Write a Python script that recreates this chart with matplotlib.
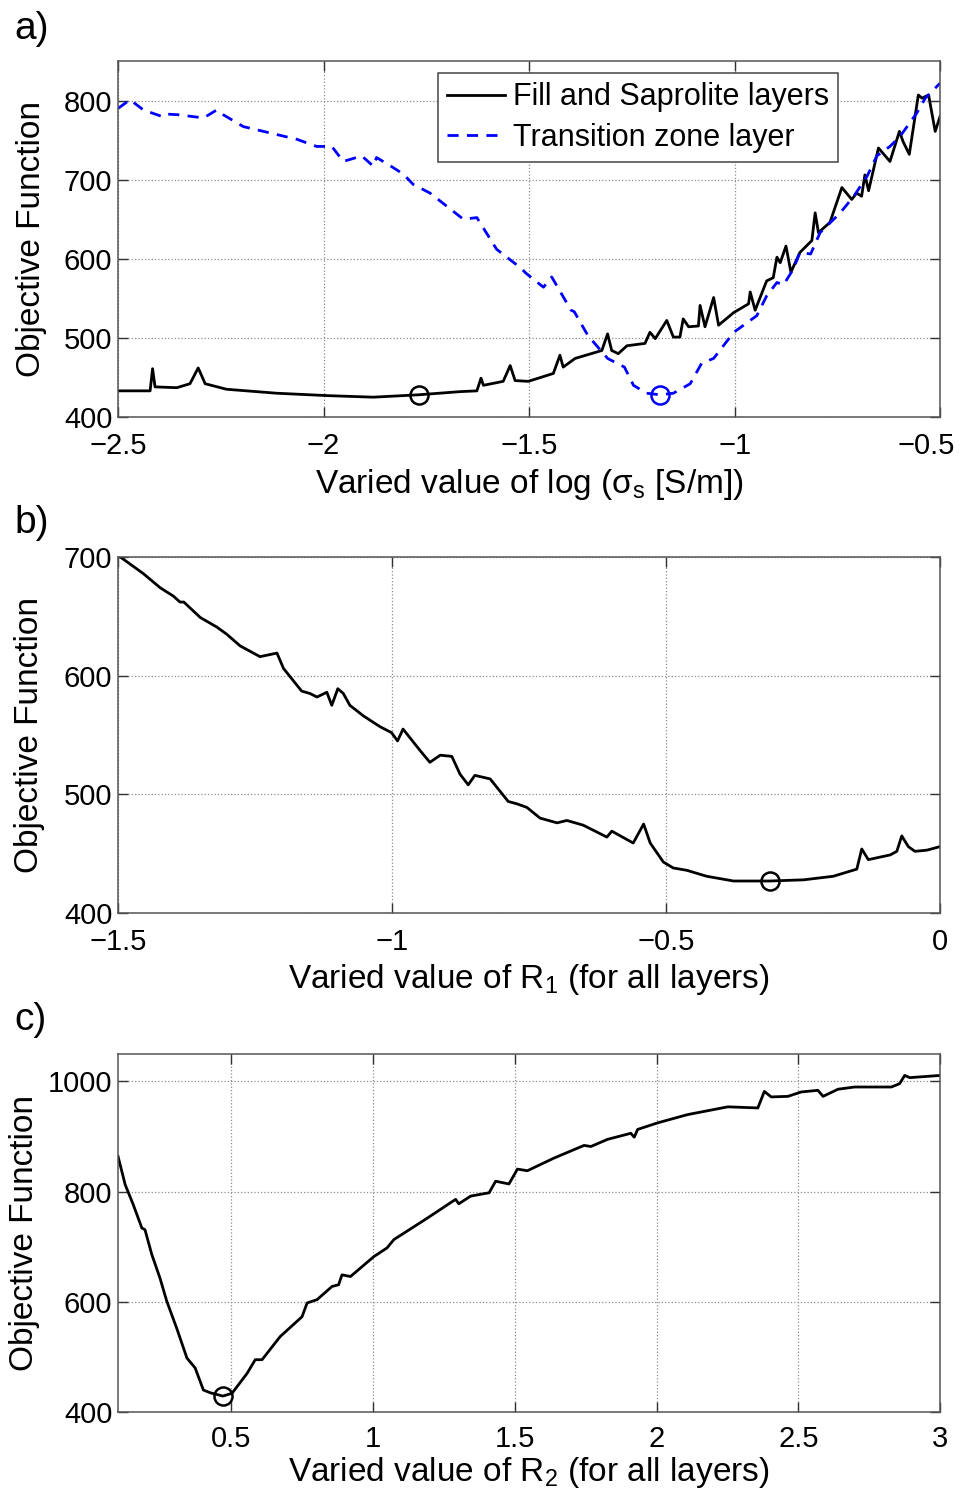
import numpy as np
import matplotlib
matplotlib.use('Agg')
import matplotlib.pyplot as plt
import matplotlib.transforms as mtransforms

plt.rcParams['font.family'] = ['Liberation Sans', 'DejaVu Sans']
plt.rcParams['mathtext.fontset'] = 'custom'
plt.rcParams['mathtext.rm'] = 'Liberation Sans'

# a) sigma_s sweep
fill_x = [-2.5, -2.422, -2.416, -2.41, -2.357, -2.325, -2.305, -2.288, -2.236, -2.114,
          -1.992, -1.879, -1.769, -1.668, -1.627, -1.617, -1.611, -1.563, -1.546, -1.534,
          -1.502, -1.441, -1.425, -1.417, -1.388, -1.323, -1.309, -1.299, -1.283, -1.262,
          -1.218, -1.206, -1.193, -1.165, -1.149, -1.133, -1.125, -1.112, -1.088, -1.084,
          -1.072, -1.051, -1.039, -1.002, -0.966, -0.962, -0.95, -0.922, -0.906, -0.897,
          -0.889, -0.875, -0.863, -0.841, -0.812, -0.804, -0.796, -0.768, -0.739, -0.715,
          -0.703, -0.691, -0.683, -0.674, -0.65, -0.622, -0.599, -0.59, -0.575, -0.553,
          -0.544, -0.528, -0.512, -0.5]
fill_y = [433, 433, 461, 438, 437, 442, 462, 442, 435, 430,
          427, 425, 428, 432, 433, 449, 440, 445, 465, 446,
          445, 455, 478, 463, 474, 484, 505, 484, 480, 490,
          493, 507, 499, 522, 501, 501, 524, 514, 515, 541,
          514, 551, 516, 532, 543, 558, 535, 572, 576, 602,
          595, 616, 583, 608, 623, 658, 633, 646, 690, 675,
          683, 679, 706, 686, 740, 723, 761, 748, 732, 807,
          803, 807, 761, 780]
trans_x = [-2.5, -2.471, -2.438, -2.394, -2.386, -2.353, -2.292, -2.26, -2.244, -2.195,
           -2.13, -2.065, -2.017, -1.98, -1.952, -1.907, -1.879, -1.871, -1.83, -1.806,
           -1.782, -1.741, -1.66, -1.627, -1.579, -1.522, -1.506, -1.465, -1.445, -1.398,
           -1.39, -1.357, -1.309, -1.268, -1.246, -1.214, -1.181, -1.149, -1.108, -1.08,
           -1.051, -1.002, -0.946, -0.922, -0.897, -0.881, -0.857, -0.841, -0.815, -0.792,
           -0.743, -0.71, -0.678, -0.654, -0.622, -0.597, -0.557, -0.536, -0.5]
trans_y = [790, 801, 788, 780, 783, 782, 778, 788, 782, 767,
           759, 751, 742, 742, 723, 730, 717, 728, 715, 707,
           694, 683, 650, 652, 612, 589, 581, 564, 577, 535,
           533, 503, 474, 463, 440, 430, 428, 430, 442, 468,
           474, 507, 528, 553, 570, 567, 587, 608, 606, 633,
           658, 679, 704, 730, 742, 755, 784, 803, 822]
fill_best = (-1.769, 428)
trans_best = (-1.181, 428)

# b) R1 sweep
r1_x = [-1.5, -1.493, -1.454, -1.423, -1.399, -1.387, -1.38, -1.35, -1.32, -1.302,
        -1.277, -1.241, -1.21, -1.198, -1.165, -1.15, -1.137, -1.119, -1.11, -1.099,
        -1.089, -1.077, -1.052, -1.022, -1.001, -0.99, -0.98, -0.949, -0.931, -0.912,
        -0.891, -0.876, -0.861, -0.849, -0.821, -0.788, -0.772, -0.754, -0.73, -0.699,
        -0.681, -0.651, -0.608, -0.599, -0.56, -0.541, -0.529, -0.505, -0.487, -0.462,
        -0.426, -0.377, -0.353, -0.311, -0.249, -0.195, -0.152, -0.143, -0.131, -0.091,
        -0.079, -0.07, -0.058, -0.046, -0.024, 0.0]
r1_y = [701, 699, 686, 674, 667, 662, 662, 649, 641, 635,
        625, 616, 619, 606, 587, 585, 582, 586, 575, 589,
        585, 575, 566, 557, 552, 545, 555, 537, 527, 533,
        532, 517, 508, 516, 513, 494, 492, 489, 480, 476,
        478, 474, 464, 469, 459, 475, 459, 443, 438, 436,
        431, 427, 427, 427, 428, 431, 437, 454, 445, 449,
        452, 465, 456, 452, 453, 456]
r1_best = (-0.311, 427)

# c) R2 sweep
r2_x = [0.1, 0.125, 0.154, 0.184, 0.195, 0.219, 0.248, 0.272, 0.307, 0.343,
        0.372, 0.401, 0.425, 0.47, 0.502, 0.555, 0.584, 0.608, 0.672, 0.749,
        0.767, 0.802, 0.855, 0.878, 0.89, 0.92, 1.002, 1.049, 1.073, 1.191,
        1.273, 1.291, 1.302, 1.344, 1.409, 1.432, 1.479, 1.509, 1.544, 1.638,
        1.744, 1.768, 1.827, 1.909, 1.921, 1.933, 2.004, 2.11, 2.251, 2.357,
        2.38, 2.404, 2.463, 2.51, 2.569, 2.587, 2.64, 2.698, 2.828, 2.857,
        2.875, 2.893, 3.0]
r2_y = [864, 813, 776, 734, 731, 686, 643, 601, 552, 498,
        480, 440, 435, 429, 434, 470, 495, 495, 537, 573,
        598, 604, 628, 631, 649, 646, 682, 698, 713, 752,
        780, 786, 778, 792, 798, 819, 814, 841, 838, 861,
        884, 882, 895, 906, 899, 913, 925, 940, 954, 952,
        982, 972, 973, 981, 984, 973, 986, 990, 990, 996,
        1011, 1007, 1011]
r2_best = (0.47, 429)

TICK_FS = 21
LABEL_FS = 24

fig = plt.figure(figsize=(9.66, 15.02), dpi=100)
ax_a = fig.add_axes([0.1222, 0.7224, 0.851, 0.2370])
ax_b = fig.add_axes([0.1222, 0.3921, 0.851, 0.2371])
ax_c = fig.add_axes([0.1222, 0.0599, 0.851, 0.2384])


def style(ax, ylpad=6):
    ax.grid(True, linestyle=':', color='#8c8c8c', linewidth=0.9)
    ax.set_axisbelow(True)
    ax.tick_params(direction='in', length=7, width=1, color='#333333',
                   top=True, right=True, labelsize=TICK_FS)
    ax.tick_params(axis='x', pad=11)
    ax.tick_params(axis='y', pad=4)
    for sp in ax.spines.values():
        sp.set_color('#555555')
        sp.set_linewidth(1.1)
    ax.set_ylabel('Objective Function', fontsize=LABEL_FS, labelpad=ylpad)


# panel a
ax_a.plot(fill_x, fill_y, color='black', lw=2, label='Fill and Saprolite layers')
ax_a.plot(trans_x, trans_y, color='blue', lw=2, ls=(0, (4, 3)), label='Transition zone layer')
ax_a.plot(*fill_best, 'o', mfc='none', mec='black', ms=13, mew=1.8)
ax_a.plot(*trans_best, 'o', mfc='none', mec='blue', ms=13, mew=1.8)
ax_a.set_xlim(-2.5, -0.5)
ax_a.set_ylim(400, 850)
ax_a.set_xticks([-2.5, -2, -1.5, -1, -0.5])
ax_a.set_xticklabels(['\u22122.5', '\u22122', '\u22121.5', '\u22121', '\u22120.5'])
ax_a.set_yticks([400, 500, 600, 700, 800])
style(ax_a, ylpad=12)
ax_a.set_xlabel('Varied value of log (\u03c3$_\\mathregular{s}$ [S/m])', fontsize=LABEL_FS, labelpad=5)
# keep the last tick label inside the figure, as in the original
last = ax_a.get_xticklabels()[-1]
last.set_transform(last.get_transform() + mtransforms.ScaledTranslation(-10 / 72, 0, fig.dpi_scale_trans))
leg = ax_a.legend(loc='upper left', bbox_to_anchor=(0.389, 0.966), fontsize=22,
                  frameon=True, fancybox=False, framealpha=1, edgecolor='#444444',
                  handlelength=1.9, handletextpad=0.25, borderpad=0.3, labelspacing=0.35,
                  borderaxespad=0)
leg.get_frame().set_linewidth(1.1)

# panel b
ax_b.plot(r1_x, r1_y, color='black', lw=2)
ax_b.plot(*r1_best, 'o', mfc='none', mec='black', ms=13, mew=1.8)
ax_b.set_xlim(-1.5, 0)
ax_b.set_ylim(400, 700)
ax_b.set_xticks([-1.5, -1, -0.5, 0])
ax_b.set_xticklabels(['\u22121.5', '\u22121', '\u22120.5', '0'])
ax_b.set_yticks([400, 500, 600, 700])
style(ax_b, ylpad=14)
ax_b.set_xlabel('Varied value of R$_\\mathregular{1}$ (for all layers)', fontsize=LABEL_FS, labelpad=4)

# panel c
ax_c.plot(r2_x, r2_y, color='black', lw=2)
ax_c.plot(*r2_best, 'o', mfc='none', mec='black', ms=13, mew=1.8)
ax_c.set_xlim(0.1, 3)
ax_c.set_ylim(400, 1050)
ax_c.set_xticks([0.5, 1, 1.5, 2, 2.5, 3])
ax_c.set_xticklabels(['0.5', '1', '1.5', '2', '2.5', '3'])
ax_c.set_yticks([400, 600, 800, 1000])
style(ax_c, ylpad=6)
ax_c.tick_params(axis='x', pad=9)
ax_c.set_xlabel('Varied value of R$_\\mathregular{2}$ (for all layers)', fontsize=LABEL_FS, labelpad=2)

fig.text(0.015, 0.993, 'a)', fontsize=28, va='top', ha='left')
fig.text(0.015, 0.664, 'b)', fontsize=28, va='top', ha='left')
fig.text(0.015, 0.333, 'c)', fontsize=28, va='top', ha='left')

fig.savefig('out.png', dpi=100)
